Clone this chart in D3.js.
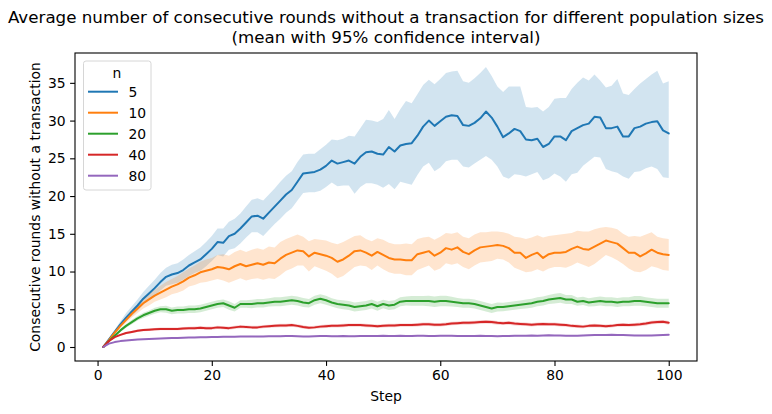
<!DOCTYPE html>
<html><head><meta charset="utf-8">
<script src="https://cdn.jsdelivr.net/npm/d3@7"></script>
<style>
body{margin:0;background:#fff;}
svg{display:block;font-family:"DejaVu Sans",sans-serif;}
</style></head><body>
<svg id="chart" width="772" height="414"></svg>
<script>
const titleLines = ["Average number of consecutive rounds without a transaction for different population sizes", "(mean with 95% confidence interval)"];
const xLabel = "Step";
const yLabel = "Consecutive rounds without a transaction";
const legendTitle = "n";
const groups = ["5", "10", "20", "40", "80"];
const colors = ["#1f77b4", "#ff7f0e", "#2ca02c", "#d62728", "#9467bd"];
const xTicks = [0, 20, 40, 60, 80, 100];
const yTicks = [0, 5, 10, 15, 20, 25, 30, 35];
const steps = d3.range(1, 101);

const mean5 = [0,1.0,2.0,3.0,3.9,4.7,5.5,6.4,7.1,7.8,8.6,9.3,9.6,9.8,10.2,10.8,11.2,11.6,12.3,13.0,13.9,13.8,14.7,15.0,15.7,16.5,17.3,17.4,17.0,17.8,18.6,19.4,20.2,20.8,21.9,23.0,23.1,23.2,23.5,24.0,24.7,24.3,24.5,24.7,24.3,25.2,25.8,25.9,25.6,25.5,26.5,25.9,26.7,26.9,27.0,28.0,29.2,30.0,29.3,29.9,30.5,30.7,30.6,29.4,29.3,29.7,30.3,31.2,30.4,29.2,27.8,28.3,28.9,28.6,27.5,27.4,27.6,26.5,26.9,27.9,27.9,27.4,28.6,29.0,29.4,29.6,30.5,30.4,29.0,29.0,29.2,27.9,27.9,29.0,29.2,29.6,29.8,29.9,28.7,28.3];
const upper5 = [0,1.2,2.3,3.4,4.5,5.4,6.3,7.3,8.1,8.9,9.8,10.5,10.9,11.1,11.6,12.2,12.7,13.2,13.9,14.7,15.7,15.7,16.6,17.0,17.7,18.6,19.5,19.7,19.4,20.2,21.0,21.9,22.7,23.3,24.5,25.5,25.6,25.6,26.2,26.8,27.5,27.4,27.6,28.0,27.9,29.0,30.1,30.0,29.8,30.2,31.4,30.2,31.5,32.6,32.3,33.5,34.7,35.4,34.8,35.5,36.3,36.5,36.6,35.2,35.0,35.6,36.3,37.1,35.9,34.5,33.8,34.5,34.5,34.5,31.8,31.7,31.8,31.2,31.8,32.9,33.0,33.0,34.2,35.0,35.7,35.3,36.1,35.3,34.4,34.6,35.5,33.6,33.4,34.2,34.9,35.5,36.1,36.6,34.9,35.2];
const lower5 = [0,0.8,1.7,2.6,3.4,4.1,4.8,5.6,6.2,6.8,7.5,8.1,8.3,8.5,8.9,9.4,9.8,10.1,10.7,11.4,12.2,12.0,12.9,13.1,13.7,14.5,15.2,15.2,14.7,15.5,16.3,17.0,17.8,18.4,19.4,20.4,20.5,20.5,20.7,21.2,21.8,21.3,21.4,21.4,20.3,21.2,21.7,21.7,21.5,21.1,21.6,20.9,21.9,21.7,21.5,22.8,23.9,24.4,23.3,23.8,24.6,24.8,24.8,23.9,23.8,24.3,24.8,25.3,24.8,23.9,22.6,22.3,22.9,22.8,22.6,22.9,23.2,22.1,22.4,23.0,22.6,21.9,22.9,23.1,24.0,24.6,25.2,25.1,23.6,23.3,23.1,22.6,22.3,23.2,23.3,23.7,23.9,23.6,22.5,22.4];

const mean10 = [0,0.9,1.9,2.8,3.6,4.4,5.1,5.8,6.3,6.8,7.2,7.6,8.0,8.3,8.7,9.2,9.5,9.9,10.1,10.3,10.6,10.5,10.3,10.7,11.0,10.7,10.9,11.1,10.9,11.2,11.1,11.7,12.2,12.5,12.8,12.7,12.0,12.5,12.3,12.1,11.8,11.3,11.6,12.1,12.7,12.8,12.5,12.1,12.6,12.2,11.8,11.6,11.6,11.5,11.5,12.3,12.5,12.7,12.1,12.5,13.1,12.9,13.2,12.6,12.3,12.8,13.2,13.3,13.4,13.5,13.4,13.1,12.5,12.5,11.8,12.2,12.5,11.8,12.3,12.5,12.5,12.6,13.0,13.3,13.0,12.9,13.3,13.7,14.1,13.9,13.7,13.1,12.5,12.5,12.0,12.4,12.9,12.5,12.3,12.2];
const upper10 = [0,1.0,2.1,3.1,4.0,4.9,5.7,6.5,7.1,7.6,8.1,8.6,9.0,9.4,9.9,10.4,10.8,11.3,11.6,11.8,12.2,12.3,12.1,12.6,12.9,12.6,12.9,13.1,12.9,13.3,13.2,13.9,14.3,14.6,14.9,14.6,14.0,14.3,14.2,14.1,13.8,13.6,13.9,14.3,14.7,14.8,14.3,14.0,14.4,14.2,13.8,13.6,13.6,13.7,13.6,14.3,14.5,14.6,14.2,14.6,15.1,15.0,15.2,14.6,14.4,14.9,15.2,15.2,15.3,15.3,15.2,15.0,14.6,14.5,14.3,14.5,14.8,14.5,14.7,14.8,14.9,15.0,15.1,15.4,15.3,15.3,15.6,15.8,15.9,15.8,15.6,15.0,14.6,14.7,14.6,14.9,15.2,14.6,14.4,14.3];
const lower10 = [0,0.8,1.7,2.5,3.2,3.9,4.5,5.1,5.5,6.0,6.3,6.6,7.0,7.2,7.5,8.0,8.2,8.5,8.6,8.8,9.0,8.8,8.5,8.8,9.1,8.8,9.0,9.1,8.9,9.1,9.0,9.5,10.1,10.4,10.8,10.8,10.0,10.7,10.4,10.1,9.7,9.1,9.4,10.0,10.6,10.8,10.7,10.2,10.8,10.3,9.9,9.7,9.7,9.5,9.5,10.2,10.5,10.8,10.1,10.4,11.1,10.9,11.1,10.6,10.3,10.8,11.2,11.3,11.4,11.7,11.6,11.2,10.5,10.2,9.9,10.0,10.3,10.0,10.4,10.6,10.6,10.5,10.8,11.2,10.9,10.6,11.0,11.6,12.2,11.9,11.5,11.0,10.4,10.0,9.9,10.2,10.7,10.5,10.2,10.1];

const mean20 = [0,0.8,1.5,2.2,2.8,3.3,3.8,4.2,4.5,4.8,5.0,5.0,4.8,4.9,4.9,5.0,5.0,5.1,5.3,5.5,5.7,5.8,5.5,5.2,5.7,5.7,5.7,5.8,5.8,5.9,6.0,6.0,6.1,6.2,6.1,5.9,5.8,6.2,6.4,6.2,5.9,5.7,5.6,5.5,5.3,5.4,5.5,5.7,5.4,5.7,5.5,5.6,6.0,6.1,6.1,6.1,6.1,6.1,6.0,6.1,6.1,6.0,5.9,5.8,5.8,5.7,5.5,5.3,5.1,5.3,5.3,5.4,5.5,5.6,5.7,5.8,6.0,6.1,6.3,6.4,6.5,6.3,6.3,6.0,6.1,5.9,6.0,6.1,6.0,6.0,5.9,6.0,6.0,6.1,6.1,6.0,5.9,5.8,5.8,5.8];
const ci20 = [0,0.1,0.15,0.2,0.25,0.3,0.3,0.35,0.35,0.4,0.4,0.45,0.45,0.45,0.45,0.5,0.5,0.5,0.5,0.5,0.5,0.5,0.55,0.5,0.5,0.5,0.55,0.55,0.55,0.55,0.6,0.6,0.6,0.6,0.6,0.6,0.55,0.6,0.6,0.6,0.55,0.55,0.6,0.6,0.6,0.6,0.6,0.6,0.6,0.55,0.6,0.6,0.6,0.6,0.65,0.65,0.65,0.7,0.7,0.7,0.7,0.65,0.6,0.6,0.6,0.6,0.6,0.6,0.6,0.6,0.55,0.55,0.55,0.55,0.6,0.6,0.6,0.6,0.6,0.65,0.65,0.6,0.6,0.55,0.55,0.55,0.6,0.6,0.6,0.6,0.6,0.6,0.6,0.65,0.65,0.6,0.6,0.6,0.6,0.6];

const mean40 = [0,0.8,1.3,1.6,1.85,2.0,2.15,2.25,2.3,2.35,2.4,2.4,2.4,2.4,2.45,2.5,2.5,2.55,2.5,2.5,2.6,2.55,2.5,2.6,2.7,2.65,2.6,2.6,2.7,2.75,2.8,2.85,2.85,2.9,2.8,2.65,2.55,2.6,2.7,2.75,2.8,2.8,2.85,2.9,2.9,2.9,2.85,2.8,2.75,2.8,2.85,2.85,2.9,2.9,2.9,2.95,3.0,3.0,2.95,2.95,3.0,3.1,3.15,3.2,3.2,3.25,3.3,3.35,3.3,3.2,3.15,3.2,3.1,3.05,3.0,2.95,3.0,3.05,3.0,3.0,2.95,2.9,2.8,2.75,2.7,2.8,2.85,2.8,2.75,2.8,2.9,2.95,2.9,2.95,3.0,3.1,3.25,3.3,3.35,3.2];
const ci40 = [0,0.06,0.1,0.12,0.14,0.15,0.16,0.17,0.17,0.18,0.18,0.18,0.18,0.19,0.19,0.19,0.2,0.2,0.2,0.2,0.2,0.2,0.2,0.2,0.21,0.21,0.21,0.21,0.21,0.21,0.22,0.22,0.22,0.22,0.22,0.22,0.21,0.21,0.22,0.22,0.22,0.22,0.22,0.22,0.22,0.22,0.22,0.22,0.22,0.22,0.22,0.22,0.23,0.23,0.23,0.23,0.23,0.23,0.23,0.23,0.23,0.23,0.23,0.24,0.24,0.24,0.24,0.24,0.24,0.24,0.24,0.24,0.24,0.24,0.23,0.23,0.23,0.23,0.23,0.23,0.23,0.23,0.23,0.22,0.22,0.22,0.23,0.23,0.22,0.22,0.23,0.23,0.23,0.23,0.23,0.24,0.24,0.24,0.24,0.24];

const mean80 = [0,0.45,0.65,0.78,0.87,0.93,0.98,1.02,1.05,1.08,1.12,1.15,1.18,1.2,1.22,1.25,1.27,1.3,1.3,1.32,1.33,1.35,1.35,1.37,1.38,1.38,1.4,1.38,1.4,1.42,1.42,1.43,1.45,1.45,1.42,1.4,1.4,1.42,1.45,1.45,1.44,1.43,1.45,1.42,1.43,1.45,1.47,1.46,1.45,1.48,1.47,1.46,1.48,1.45,1.47,1.48,1.5,1.47,1.45,1.48,1.5,1.48,1.46,1.47,1.45,1.46,1.48,1.47,1.45,1.44,1.45,1.47,1.48,1.5,1.5,1.52,1.5,1.52,1.55,1.53,1.52,1.5,1.48,1.5,1.53,1.56,1.58,1.6,1.6,1.62,1.6,1.58,1.55,1.53,1.52,1.52,1.53,1.55,1.58,1.62];
const ci80 = [0,0.04,0.05,0.05,0.06,0.06,0.06,0.07,0.07,0.07,0.07,0.07,0.07,0.07,0.07,0.07,0.08,0.08,0.08,0.08,0.08,0.08,0.08,0.08,0.08,0.08,0.08,0.08,0.08,0.08,0.08,0.08,0.08,0.08,0.08,0.08,0.08,0.08,0.08,0.08,0.08,0.08,0.08,0.08,0.08,0.08,0.08,0.08,0.08,0.08,0.08,0.08,0.08,0.08,0.08,0.08,0.08,0.08,0.08,0.08,0.08,0.08,0.08,0.08,0.08,0.08,0.08,0.08,0.08,0.08,0.08,0.08,0.08,0.08,0.08,0.08,0.08,0.08,0.08,0.08,0.08,0.08,0.08,0.08,0.08,0.08,0.08,0.08,0.08,0.08,0.08,0.08,0.08,0.08,0.08,0.08,0.08,0.08,0.08,0.08];

const series = [
  {mean: mean5, lo: lower5, hi: upper5},
  {mean: mean10, lo: lower10, hi: upper10},
  {mean: mean20, lo: mean20.map((m,i)=>m-ci20[i]), hi: mean20.map((m,i)=>m+ci20[i])},
  {mean: mean40, lo: mean40.map((m,i)=>m-ci40[i]), hi: mean40.map((m,i)=>m+ci40[i])},
  {mean: mean80, lo: mean80.map((m,i)=>m-ci80[i]), hi: mean80.map((m,i)=>m+ci80[i])}
];

const L = 75, R = 697, T = 53, B = 361;
const FS = "13.9px";
const svg = d3.select("#chart");

const xMin = d3.min(steps), xMax = d3.max(steps);
const xPad = (xMax - xMin) * 0.05;
const x = d3.scaleLinear().domain([xMin - xPad, xMax + xPad]).range([L, R]);
const yMinD = d3.min(series, s => d3.min(s.lo)), yMaxD = d3.max(series, s => d3.max(s.hi));
const yPad = (yMaxD - yMinD) * 0.05;
const y = d3.scaleLinear().domain([yMinD - yPad, yMaxD + yPad]).range([B, T]);

svg.append("clipPath").attr("id","clip").append("rect")
  .attr("x", L).attr("y", T).attr("width", R-L).attr("height", B-T);
const plot = svg.append("g").attr("clip-path","url(#clip)");

const area = d3.area().x((d,i)=>x(steps[i])).y0(d=>y(d[0])).y1(d=>y(d[1]));
const line = d3.line().x((d,i)=>x(steps[i])).y(d=>y(d));

series.forEach((s, k) => {
  const band = s.lo.map((v,i)=>[v, s.hi[i]]);
  plot.append("path").datum(band).attr("d", area)
    .attr("fill", colors[k]).attr("fill-opacity", 0.2).attr("stroke", "none");
});
series.forEach((s, k) => {
  plot.append("path").datum(s.mean).attr("d", line)
    .attr("fill","none").attr("stroke", colors[k]).attr("stroke-width", 2)
    .attr("stroke-linejoin","round").attr("stroke-linecap","round");
});

const xAxis = svg.append("g").attr("transform", `translate(0,${B})`)
  .call(d3.axisBottom(x).tickValues(xTicks).tickSize(4.9).tickPadding(4.4).tickFormat(d3.format("d")));
const yAxis = svg.append("g").attr("transform", `translate(${L},0)`)
  .call(d3.axisLeft(y).tickValues(yTicks).tickSize(4.9).tickPadding(4.4).tickFormat(d3.format("d")));
[xAxis, yAxis].forEach(a => {
  a.select(".domain").remove();
  a.selectAll("line").attr("stroke","#000").attr("stroke-width",1.1);
  a.selectAll("text").attr("fill","#000").style("font-size",FS).style("font-family","DejaVu Sans");
});

svg.append("rect").attr("x", L).attr("y", T).attr("width", R-L).attr("height", B-T)
  .attr("fill","none").attr("stroke","#000").attr("stroke-width",1.1);

svg.append("text").attr("x", (L+R)/2).attr("y", 401).attr("text-anchor","middle")
  .style("font-size",FS).text(xLabel);
svg.append("text").attr("transform", `translate(40,${(T+B)/2}) rotate(-90)`).attr("text-anchor","middle")
  .style("font-size",FS).text(yLabel);

svg.append("text").attr("x", (L+R)/2).attr("y", 23).attr("text-anchor","middle")
  .style("font-size","16.7px").text(titleLines[0]);
svg.append("text").attr("x", (L+R)/2).attr("y", 43).attr("text-anchor","middle")
  .style("font-size","16.7px").text(titleLines[1]);

const lg = svg.append("g");
lg.append("rect").attr("x", 83.5).attr("y", 61).attr("width", 67.5).attr("height", 129).attr("rx", 2.5)
  .attr("fill","#fff").attr("fill-opacity",0.8).attr("stroke","#d6d6d6").attr("stroke-width",1);
lg.append("text").attr("x", 117).attr("y", 78).attr("text-anchor","middle").style("font-size",FS).text(legendTitle);
groups.forEach((g, i) => {
  const yy = 91.7 + i * 21;
  lg.append("line").attr("x1", 88).attr("x2", 118).attr("y1", yy).attr("y2", yy)
    .attr("stroke", colors[i]).attr("stroke-width", 2);
  lg.append("text").attr("x", 128.5).attr("y", yy + 5).style("font-size",FS).text(g);
});
</script>
</body></html>
